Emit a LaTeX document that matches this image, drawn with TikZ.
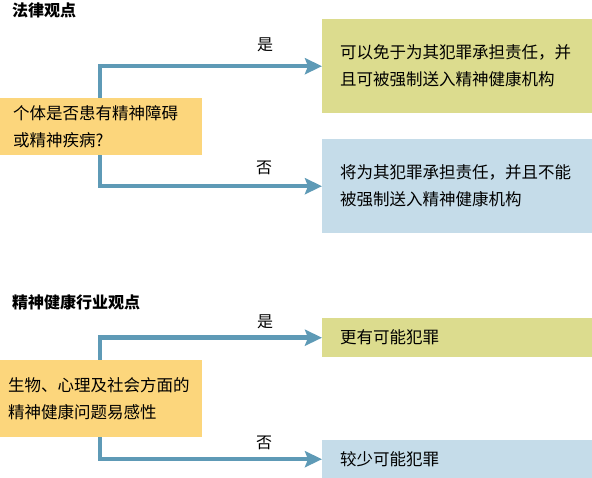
\documentclass[tikz,border=0pt]{standalone}
\usepackage{fontspec}
\setmainfont{Noto Sans CJK SC}
\usepackage{xcolor}
\usepackage{tikz}
\usetikzlibrary{arrows.meta}

\definecolor{askorange}{HTML}{FCD67C}
\definecolor{yesgreen}{HTML}{DCDC8E}
\definecolor{noblue}{HTML}{C5DCE9}
\definecolor{flowblue}{HTML}{5E9AB6}

\begin{document}
\begin{tikzpicture}[x=1pt,y=1pt]
                \tikzstyle{every node}+=[inner sep=0pt]
                \tikzstyle{boxtext}=[font=\fontsize{16.5}{27}\selectfont, align=left, anchor=north west]
                \tikzstyle{askbox}=[boxtext, fill=askorange]
                \tikzstyle{yesbox}=[boxtext, fill=yesgreen, minimum width=270, inner xsep=18, text width=234]
                \tikzstyle{nobox}=[boxtext, fill=noblue, minimum width=270, inner xsep=18, text width=234]
                \tikzstyle{flowarrow}=[flowblue, line width=4.5pt, -{Stealth[length=17pt,width=16pt,inset=3pt]}]
                \tikzstyle{branch}=[font=\fontsize{16}{18}\selectfont]
                \tikzstyle{heading}=[font=\fontsize{16}{18}\selectfont\bfseries, anchor=west]
                \useasboundingbox (0,0) rectangle (592,-478);
                % legal view
                \node [heading] (lawtitle) at (12,-10) {法律观点};
                \node [askbox, minimum width=202, minimum height=57, inner xsep=13, text width=176] (q1) at (0,-98) {个体是否患有精神障碍\\或精神疾病?};
                \node [yesbox, minimum height=94] (yes1) at (322,-19) {可以免于为其犯罪承担责任，并\\且可被强制送入精神健康机构};
                \node [nobox, minimum height=94] (no1) at (322,-139) {将为其犯罪承担责任，并且不能\\被强制送入精神健康机构};
                \draw [flowarrow] (q1.north west) ++(100,0) |- (yes1.west);
                \draw [flowarrow] (q1.south west) ++(100,0) |- (no1.west);
                \node [branch] (yes1lbl) at (265,-45) {是};
                \node [branch] (no1lbl) at (264,-168) {否};
                % mental health view
                \node [heading] (healthtitle) at (12,-302) {精神健康行业观点};
                \node [askbox, minimum width=202, minimum height=77, inner xsep=8, text width=186] (q2) at (0,-360) {生物、心理及社会方面的\\精神健康问题易感性};
                \node [yesbox, minimum height=39] (yes2) at (322,-318) {更有可能犯罪};
                \node [nobox, minimum height=38] (no2) at (322,-440) {较少可能犯罪};
                \draw [flowarrow] (q2.north west) ++(100,0) |- (yes2.west);
                \draw [flowarrow] (q2.south west) ++(100,0) |- (no2.west);
                \node [branch] (yes2lbl) at (265,-322) {是};
                \node [branch] (no2lbl) at (264,-443) {否};
\end{tikzpicture}
\end{document}
